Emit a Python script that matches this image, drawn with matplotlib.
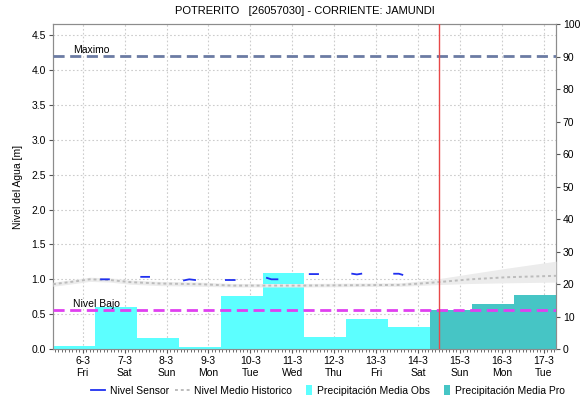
import matplotlib
matplotlib.use("Agg")
import matplotlib.pyplot as plt
import matplotlib.dates as mdates
from matplotlib.lines import Line2D
from matplotlib.patches import Patch, Rectangle
from matplotlib.legend_handler import HandlerPatch
import numpy as np
import pandas as pd

plt.rcParams['font.family'] = ['Liberation Sans', 'DejaVu Sans']

# precipitacion diaria (mm), dias de 07:00 a 07:00
obs_dias = ["2026-03-05 07:00", "2026-03-06 07:00", "2026-03-07 07:00", "2026-03-08 07:00",
            "2026-03-09 07:00", "2026-03-10 07:00", "2026-03-11 07:00", "2026-03-12 07:00",
            "2026-03-13 07:00"]
obs_mm = [0.8, 13.0, 3.5, 0.7, 16.4, 23.3, 3.8, 9.4, 6.9]
pro_dias = ["2026-03-14 07:00", "2026-03-15 07:00", "2026-03-16 07:00"]
pro_mm = [12.0, 13.8, 16.7]

# nivel del sensor (m), tramos separados por NaN
sensor_t = ["2026-03-06 10:30", "2026-03-06 15:00", "2026-03-06 15:30",
            "2026-03-07 09:30", "2026-03-07 14:00", "2026-03-07 14:30",
            "2026-03-08 10:00", "2026-03-08 13:00", "2026-03-08 16:20", "2026-03-08 16:40",
            "2026-03-09 10:00", "2026-03-09 15:00", "2026-03-09 15:30",
            "2026-03-10 09:30", "2026-03-10 12:00", "2026-03-10 15:30", "2026-03-10 16:00",
            "2026-03-11 10:00", "2026-03-11 14:45", "2026-03-11 15:00",
            "2026-03-12 10:20", "2026-03-12 13:00", "2026-03-12 15:30", "2026-03-12 16:00",
            "2026-03-13 10:20", "2026-03-13 13:00", "2026-03-13 15:00"]
sensor_m = [1.00, 1.00, np.nan,
            1.035, 1.035, np.nan,
            0.985, 1.00, 0.99, np.nan,
            0.99, 0.99, np.nan,
            1.02, 1.00, 1.00, np.nan,
            1.075, 1.075, np.nan,
            1.08, 1.07, 1.08, np.nan,
            1.08, 1.08, 1.065]

# nivel medio historico y banda
hist_t = ["2026-03-05 07:00", "2026-03-05 19:30", "2026-03-06 04:00", "2026-03-06 15:40",
          "2026-03-07 03:00", "2026-03-07 20:00", "2026-03-08 19:00", "2026-03-09 13:30",
          "2026-03-11 04:30", "2026-03-13 14:00", "2026-03-14 07:00", "2026-03-15 06:00",
          "2026-03-16 03:00", "2026-03-17 07:00"]
hist_m = [0.93, 0.97, 1.00, 0.99, 0.96, 0.94, 0.93, 0.91, 0.91, 0.92, 0.95, 1.00, 1.03, 1.05]
hist_lo = [0.90, 0.94, 0.97, 0.96, 0.93, 0.91, 0.90, 0.89, 0.89, 0.90, 0.92, 0.94, 0.95, 0.96]
hist_hi = [0.96, 1.00, 1.03, 1.02, 0.99, 0.97, 0.96, 0.94, 0.94, 0.95, 0.99, 1.08, 1.16, 1.26]

nivel_max = 4.2
nivel_bajo = 0.56
ahora = "2026-03-14 12:00"
x_ini = "2026-03-05 07:00"
x_fin = "2026-03-17 07:00"

obs_d = pd.to_datetime(obs_dias)
pro_d = pd.to_datetime(pro_dias)
sens_d = pd.to_datetime(sensor_t)
hist_d = pd.to_datetime(hist_t)


# cuadrito angosto para la leyenda
class CuadroHandler(HandlerPatch):
    def create_artists(self, legend, orig_handle, xdescent, ydescent, width, height, fontsize, trans):
        w = height * 0.9
        p = Rectangle((width - w - xdescent, -ydescent - 1), w, height + 2,
                      facecolor=orig_handle.get_facecolor(), linewidth=0, transform=trans)
        return [p]


fig = plt.figure(figsize=(5.8, 4.04), dpi=100)
ax = fig.add_axes([0.0914, 0.136, 0.8672, 0.8045])
ax.set_zorder(1)

axp = ax.twinx()
axp.set_zorder(2)
axp.patch.set_visible(False)

axl = ax.twinx()
axl.set_zorder(3)
axl.patch.set_visible(False)

# barras de precipitacion
axp.bar(obs_d, obs_mm, width=1.0, align='edge', color='#5cffff', linewidth=0)
axp.bar(pro_d, pro_mm, width=1.0, align='edge', color='#46c5c5', linewidth=0)
axp.set_ylim(0, 100)
axp.set_yticks(np.arange(0, 101, 10))

# niveles
axl.fill_between(hist_d, hist_lo, hist_hi, color='#ececec', linewidth=0)
axl.plot(hist_d, hist_m, color='#bcbcbc', linewidth=1.4, dashes=(1.5, 1.5))
axl.plot(sens_d, sensor_m, color='#2030f0', linewidth=1.3)
axl.axhline(nivel_max, color='#6b7ba3', linewidth=2, dashes=(4, 2))
axl.axhline(nivel_bajo, color='#e040f0', linewidth=2, dashes=(4, 2))
axl.axvline(pd.Timestamp(ahora), color='#e84848', linewidth=1)
axl.text(0.04, nivel_max + 0.04, 'Maximo', transform=axl.get_yaxis_transform(), fontsize=7.5)
axl.text(0.04, nivel_bajo + 0.04, 'Nivel Bajo', transform=axl.get_yaxis_transform(), fontsize=7.5)
axl.set_ylim(0, 4.66)
axl.axis('off')

ax.set_ylim(0, 4.66)
ax.set_yticks(np.arange(0, 4.6, 0.5))
ax.yaxis.set_major_formatter(matplotlib.ticker.FormatStrFormatter('%.1f'))
ax.set_xlim(pd.Timestamp(x_ini), pd.Timestamp(x_fin))
ax.xaxis.set_major_locator(mdates.DayLocator())
ax.xaxis.set_major_formatter(mdates.DateFormatter('%-d-%-m\n%a'))
ax.xaxis.set_minor_locator(mdates.HourLocator(byhour=range(0, 24, 2)))
ax.grid(True, color='#cccccc', linestyle=(0, (1.5, 2)), linewidth=0.8)
ax.set_ylabel('Nivel del Agua [m]', fontsize=7.5, labelpad=6)
ax.set_title('POTRERITO   [26057030] - CORRIENTE: JAMUNDI', fontsize=8, pad=7)

for a in (ax, axp):
    a.tick_params(labelsize=7.5, length=3, width=0.8, color='#555555', pad=2)
    for s in a.spines.values():
        s.set_color('#8c8c8c')
ax.tick_params(axis='x', which='minor', length=2, color='#555555')
ax.tick_params(axis='x', which='major', length=3)

handles = [Line2D([], [], color='#2030f0', linewidth=1.3),
           Line2D([], [], color='#bcbcbc', linewidth=1.4, dashes=(1.5, 1.5)),
           Patch(color='#5cffff'),
           Patch(color='#46c5c5')]
labels = ['Nivel Sensor', 'Nivel Medio Historico', 'Precipitación Media Obs', 'Precipitación Media Pro']
fig.legend(handles, labels, loc='center', bbox_to_anchor=(0.565, 0.033), ncol=4, frameon=False,
           fontsize=7.5, handlelength=1.4, handletextpad=0.4, columnspacing=0.6, borderaxespad=0,
           handler_map={Patch: CuadroHandler()})

fig.savefig('out.png', dpi=100)
